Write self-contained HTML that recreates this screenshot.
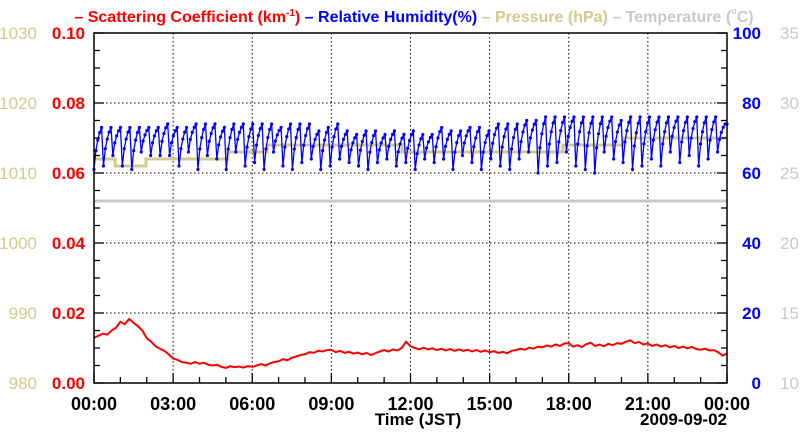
<!DOCTYPE html>
<html><head><meta charset="utf-8"><style>
html,body{margin:0;padding:0;background:#fff;width:800px;height:434px;overflow:hidden}
svg{display:block;font-family:"Liberation Sans",sans-serif;font-weight:bold}
</style></head><body>
<svg id="chart" width="800" height="434" viewBox="0 0 800 434">
<text x="414" y="22" text-anchor="middle" font-size="16"><tspan fill="#ff0000">– Scattering Coefficient (km<tspan font-size="10" dy="-6">-1</tspan><tspan dy="6">)</tspan></tspan><tspan fill="#0000ff"> – Relative Humidity(%)</tspan><tspan fill="#d2ca8c"> – Pressure (hPa)</tspan><tspan fill="#c8c8c8"> – Temperature (<tspan font-size="9" dy="-8">o</tspan><tspan dy="8">C)</tspan></tspan></text>
<g id="grid"></g>
<g id="series"></g>
<g id="axes"></g>
<text x="418" y="425" text-anchor="middle" font-size="17">Time (JST)</text>
<text x="727" y="425" text-anchor="end" font-size="17">2009-09-02</text>
</svg>
<script>
const xTickLabels = ["00:00","03:00","06:00","09:00","12:00","15:00","18:00","21:00","00:00"];
const scatTicks = ["0.00","0.02","0.04","0.06","0.08","0.10"];
const presTicks = ["980","990","1000","1010","1020","1030"];
const rhTicks = ["0","20","40","60","80","100"];
const tempTicks = ["10","15","20","25","30","35"];
// scattering coefficient, every 10 minutes (km^-1)
const scatValues = [
0.0129,0.0135,0.0141,0.0138,0.0150,0.0158,
0.0175,0.0168,0.0183,0.0172,0.0162,0.0150,
0.0128,0.0118,0.0105,0.0098,0.0092,0.0082,
0.0070,0.0066,0.0060,0.0058,0.0055,0.0060,
0.0055,0.0058,0.0052,0.0050,0.0052,0.0046,
0.0043,0.0048,0.0045,0.0047,0.0044,0.0048,
0.0046,0.0050,0.0054,0.0050,0.0056,0.0060,
0.0062,0.0068,0.0065,0.0072,0.0076,0.0080,
0.0082,0.0088,0.0086,0.0092,0.0090,0.0094,
0.0095,0.0088,0.0092,0.0086,0.0089,0.0084,
0.0087,0.0082,0.0086,0.0080,0.0085,0.0090,
0.0094,0.0090,0.0096,0.0093,0.0100,0.0118,
0.0105,0.0100,0.0096,0.0101,0.0096,0.0099,
0.0094,0.0098,0.0093,0.0097,0.0092,0.0096,
0.0092,0.0095,0.0090,0.0094,0.0089,0.0093,
0.0088,0.0091,0.0086,0.0089,0.0085,0.0092,
0.0094,0.0098,0.0095,0.0101,0.0098,0.0104,
0.0102,0.0107,0.0104,0.0110,0.0106,0.0113,
0.0114,0.0104,0.0108,0.0103,0.0111,0.0115,
0.0106,0.0110,0.0105,0.0112,0.0108,0.0114,
0.0112,0.0118,0.0122,0.0114,0.0117,0.0110,
0.0113,0.0106,0.0110,0.0104,0.0108,0.0102,
0.0106,0.0100,0.0104,0.0099,0.0103,0.0097,
0.0095,0.0098,0.0093,0.0094,0.0088,0.0078,
0.0085];
const rhPeaks = [73,73,73,73,73,73,73,74,73,73,74,74,74,73,74,74,74,74,74,73,74,74,74,72,73,74,72,71,72,72,71,72,71,72,71,71,73,72,72,73,73,72,74,74,74,75,75,76,76,76,76,76,76,76,76,75,76,76,76,76,76,76,76,76,76,76,74];
const rhTroughs = [61,62,65,62,61,66,65,65,65,62,66,61,65,64,61,66,62,63,61,66,62,61,63,64,61,62,64,63,62,61,63,64,62,63,61,64,63,64,61,65,63,61,64,62,61,64,66,60,62,63,66,62,61,60,66,64,63,61,62,64,62,66,63,65,62,64,66];
const presTimes = [0,0.8,1.97,5.08,6.56,11.68,17.78,20.06,24];
const presValues = [1012,1011,1012,1013,1014,1013,1014,1015,1015];
const tempTimes = [0,24];
const tempValues = [23,23];

const L=94,R=727,T=33,B=383;
const xS=h=>L+(R-L)*h/24;
const yScat=v=>B-(B-T)*v/0.10;
const yRH=v=>B-(B-T)*v/100;
const yPres=v=>B-(B-T)*(v-980)/50;
const yTemp=v=>B-(B-T)*(v-10)/25;
const NS="http://www.w3.org/2000/svg";
function mk(tag,parent,attrs){const e=document.createElementNS(NS,tag);for(const k in attrs)e.setAttribute(k,attrs[k]);parent.appendChild(e);return e;}
const grid=document.getElementById('grid'),series=document.getElementById('series'),axes=document.getElementById('axes');

for(let i=1;i<8;i++){const x=xS(i*3);
 const g=mk('line',grid,{x1:x,x2:x,y1:T,y2:B,stroke:'#000','stroke-width':1,'stroke-dasharray':'1.5,2.5'});
 
 }
for(let i=1;i<5;i++){const y=yScat(i*0.02);
 const g=mk('line',grid,{x1:L,x2:R,y1:y,y2:y,stroke:'#000','stroke-width':1,'stroke-dasharray':'1.5,2.5'});
 
 }

let tp=mk('polyline',series,{points:tempTimes.map((t,i)=>xS(t)+','+yTemp(tempValues[i])).join(' '),fill:'none',stroke:'#c8c8c8','stroke-width':3});


let pp=[];for(let i=0;i<presTimes.length-1;i++){pp.push(xS(presTimes[i])+','+yPres(presValues[i]));pp.push(xS(presTimes[i+1])+','+yPres(presValues[i]));}
let pl=mk('polyline',series,{points:pp.join(' '),fill:'none',stroke:'#d2ca8c','stroke-width':3});


const n=Math.min(rhPeaks.length,rhTroughs.length),per=24/n,fr=[0,0.45,0.7,0.88,1];
let rp=[];for(let k=0;k<n;k++){for(let j=0;j<5;j++){rp.push([xS((k+j*0.2)*per),yRH(rhTroughs[k]+(rhPeaks[k]-rhTroughs[k])*fr[j])]);}}
rp.push([xS(24),yRH(rhPeaks[n-1])]);
let rl=mk('polyline',series,{points:rp.map(p=>p.join(',')).join(' '),fill:'none',stroke:'#0000ff','stroke-width':1.3});


rp.forEach(p=>{const c=mk('circle',series,{cx:p[0],cy:p[1],r:1.6,fill:'#0000ff'});
 
 });
let sl=mk('polyline',series,{points:scatValues.map((v,i)=>xS(i*24/(scatValues.length-1))+','+yScat(v)).join(' '),fill:'none',stroke:'#ff0000','stroke-width':2});



let fr2=mk('rect',axes,{x:L,y:T,width:R-L,height:B-T,fill:'none',stroke:'#000','stroke-width':1.5});


for(let i=0;i<=20;i++){const y=B-(B-T)*i/20,len=i%4==0?10:6;
 mk('line',axes,{x1:L,x2:L+len,y1:y,y2:y,stroke:'#000','stroke-width':1.3});
 mk('line',axes,{x1:R,x2:R-len,y1:y,y2:y,stroke:'#000','stroke-width':1.3});}
for(let h=0;h<=24;h++){const x=xS(h),len=h%3==0?10:6;mk('line',axes,{x1:x,x2:x,y1:B,y2:B-len,stroke:'#000','stroke-width':1.3});}
for(let i=0;i<6;i++){const y=B-(B-T)*i/5+6;
 let a=mk('text',axes,{x:85,y:y,'text-anchor':'end','font-size':17,fill:'#ff0000'});a.textContent=scatTicks[i];
 
 
 let b=mk('text',axes,{x:37,y:y,'text-anchor':'end','font-size':17,fill:'#d2ca8c','font-weight':'normal'});b.textContent=presTicks[i];
 
 
 let c=mk('text',axes,{x:761,y:y,'text-anchor':'end','font-size':17,fill:'#0000ff'});c.textContent=rhTicks[i];
 
 
 let d=mk('text',axes,{x:780,y:y,'font-size':17,fill:'#c8c8c8','font-weight':'normal'});d.textContent=tempTicks[i];
 
 }
xTickLabels.forEach((t,i)=>{let e=mk('text',axes,{x:xS(i*3),y:410,'text-anchor':'middle','font-size':18,fill:'#000'});e.textContent=t;
 
 });
</script>
</body></html>
